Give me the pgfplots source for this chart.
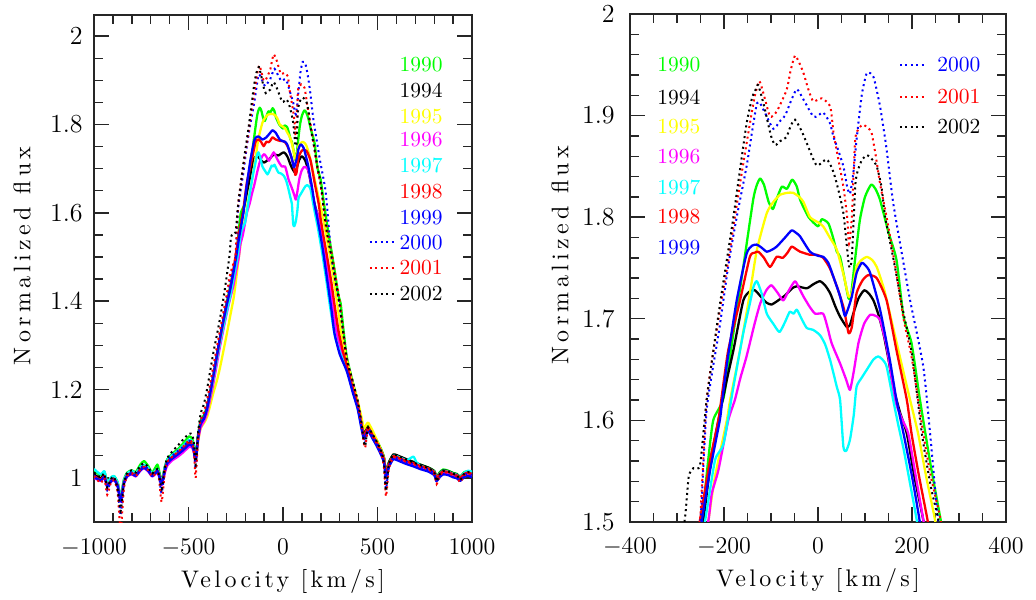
\documentclass[border=0pt]{standalone}
\usepackage{fontspec}
\usepackage{pgfplots}
\pgfplotsset{compat=1.18}
\usepackage{pgfplotstable}
\newfontfamily\lmwx{lmroman10-regular}[Extension=.otf,LetterSpace=14]
\newfontfamily\lmwy{lmroman10-regular}[Extension=.otf,LetterSpace=18]
\definecolor{cG}{rgb}{0,1,0}
\definecolor{cY}{rgb}{1,1,0}
\definecolor{cM}{rgb}{1,0,1}
\definecolor{cC}{rgb}{0,1,1}
\definecolor{cR}{rgb}{1,0,0}
\definecolor{cB}{rgb}{0,0,1}
\definecolor{cK}{rgb}{0,0,0}

% 1990 green
\pgfplotstableread{
x y
-1000 1.016
-965 1.006
-945 1.014
-930 0.990
-910 1.000
-894 1.004
-875 0.990
-859 0.956
-842 0.996
-824 1.012
-800 1.017
-779 1.013
-755 1.030
-735 1.038
-712 1.026
-692 1.012
-665 1.030
-655 1.015
-642 0.993
-625 1.025
-612 1.042
-585 1.055
-559 1.064
-530 1.077
-497 1.094
-480 1.088
-471 1.072
-462 1.046
-450 1.096
-436 1.130
-418 1.142
-400 1.166
-370 1.228
-333 1.318
-300 1.392
-280 1.432
-262 1.470
-247 1.502
-235 1.555
-223 1.600
-201 1.622
-180 1.686
-159 1.751
-138 1.817
-130 1.832
-123 1.838
-115 1.832
-105 1.815
-96 1.808
-88 1.818
-77 1.830
-66 1.828
-55 1.837
-45 1.830
-38 1.817
-20 1.800
0 1.791
8 1.798
22 1.794
32 1.780
40 1.766
47 1.761
57 1.738
65 1.720
70 1.722
78 1.755
89 1.797
100 1.820
113 1.832
122 1.828
132 1.817
150 1.785
167 1.758
182 1.702
199 1.676
217 1.620
240 1.555
261 1.502
280 1.450
295 1.410
305 1.395
320 1.335
337 1.275
370 1.215
395 1.172
415 1.125
428 1.100
440 1.110
451 1.118
475 1.100
496 1.085
522 1.062
535 1.045
545 1.012
560 1.035
584 1.052
620 1.047
654 1.041
690 1.036
725 1.030
770 1.023
800 1.016
813 1.003
830 1.013
848 1.019
875 1.016
901 1.011
920 1.009
937 1.003
960 1.013
980 1.015
1000 1.012
}\tA

% 1994 black
\pgfplotstableread{
x y
-1000 1.008
-965 0.999
-945 1.007
-930 0.986
-910 0.997
-894 1.001
-875 0.987
-859 0.952
-842 0.992
-824 1.009
-800 1.014
-779 1.009
-755 1.022
-735 1.028
-712 1.020
-692 1.009
-665 1.020
-655 1.010
-642 0.990
-625 1.022
-612 1.039
-585 1.050
-559 1.058
-530 1.068
-497 1.081
-480 1.078
-471 1.065
-462 1.043
-450 1.092
-436 1.126
-418 1.138
-400 1.160
-370 1.222
-333 1.310
-300 1.380
-280 1.418
-262 1.460
-244 1.502
-228 1.560
-212 1.600
-194 1.640
-180 1.669
-159 1.718
-145 1.727
-134 1.728
-122 1.722
-110 1.716
-99 1.714
-85 1.718
-70 1.723
-55 1.730
-45 1.732
-24 1.730
-10 1.734
4 1.737
15 1.733
26 1.725
37 1.712
47 1.702
61 1.692
68 1.694
75 1.705
86 1.720
98 1.728
108 1.725
118 1.718
128 1.705
139 1.686
150 1.660
160 1.633
175 1.607
189 1.587
205 1.545
224 1.502
245 1.445
265 1.390
284 1.335
310 1.290
337 1.255
370 1.203
395 1.168
415 1.123
428 1.098
440 1.108
451 1.116
475 1.099
496 1.083
522 1.060
535 1.044
545 1.010
560 1.034
584 1.053
620 1.048
654 1.042
690 1.036
725 1.030
770 1.023
800 1.015
813 1.002
830 1.011
848 1.017
875 1.015
901 1.010
920 1.008
937 1.002
960 1.011
980 1.014
1000 1.010
}\tB

% 1995 yellow
\pgfplotstableread{
x y
-1000 1.003
-965 0.995
-945 1.003
-930 0.982
-910 0.993
-894 0.997
-875 0.983
-859 0.948
-842 0.988
-824 1.005
-800 1.010
-779 1.005
-755 1.018
-735 1.024
-712 1.016
-692 1.005
-665 1.016
-655 1.006
-642 0.986
-625 1.016
-612 1.032
-585 1.043
-559 1.050
-530 1.060
-497 1.072
-480 1.070
-471 1.058
-462 1.038
-450 1.080
-436 1.112
-418 1.124
-400 1.140
-370 1.190
-351 1.218
-333 1.250
-300 1.320
-280 1.365
-260 1.410
-245 1.460
-233 1.502
-219 1.545
-194 1.600
-187 1.620
-166 1.669
-145 1.725
-130 1.768
-109 1.804
-95 1.815
-81 1.822
-65 1.824
-53 1.824
-40 1.820
-31 1.815
-17 1.800
0 1.795
11 1.791
25 1.780
40 1.768
55 1.742
65 1.722
72 1.726
82 1.751
93 1.758
104 1.761
115 1.758
125 1.751
140 1.730
153 1.705
174 1.663
196 1.620
213 1.587
230 1.545
249 1.502
270 1.445
290 1.385
310 1.325
337 1.268
370 1.212
395 1.175
415 1.138
428 1.112
440 1.120
451 1.125
475 1.106
496 1.086
522 1.060
535 1.043
545 1.008
560 1.030
584 1.044
620 1.039
654 1.033
690 1.028
725 1.022
770 1.016
800 1.009
813 0.996
830 1.004
848 1.010
875 1.008
901 1.003
920 1.001
937 0.995
960 1.003
980 1.006
1000 1.002
}\tC

% 1996 magenta
\pgfplotstableread{
x y
-1000 1.000
-965 0.993
-945 1.000
-930 0.980
-910 0.991
-894 0.995
-875 0.981
-859 0.946
-842 0.986
-824 1.003
-800 1.008
-779 1.003
-755 1.016
-735 1.022
-712 1.014
-692 1.003
-665 1.012
-655 1.002
-642 0.983
-625 1.012
-612 1.028
-585 1.040
-559 1.047
-530 1.057
-497 1.070
-480 1.068
-471 1.056
-462 1.037
-450 1.082
-436 1.114
-418 1.128
-400 1.150
-370 1.210
-333 1.298
-300 1.368
-280 1.405
-263 1.434
-250 1.465
-233 1.502
-226 1.528
-212 1.551
-191 1.600
-177 1.620
-165 1.642
-152 1.663
-135 1.695
-123 1.715
-110 1.728
-99 1.733
-85 1.725
-74 1.718
-62 1.728
-49 1.737
-40 1.730
-31 1.722
-18 1.712
-6 1.705
11 1.705
20 1.692
29 1.676
47 1.656
60 1.640
68 1.630
76 1.648
86 1.676
98 1.695
111 1.704
122 1.703
132 1.699
145 1.675
153 1.653
164 1.620
178 1.602
192 1.587
208 1.545
224 1.502
245 1.445
265 1.385
284 1.330
310 1.285
337 1.250
370 1.198
395 1.163
415 1.118
428 1.093
440 1.103
451 1.111
475 1.093
496 1.077
522 1.054
535 1.038
545 1.005
560 1.028
584 1.046
620 1.041
654 1.035
690 1.030
725 1.024
770 1.018
800 1.010
813 0.997
830 1.006
848 1.012
875 1.010
901 1.005
920 1.003
937 0.997
960 1.006
980 1.009
1000 1.005
}\tD

% 1997 cyan
\pgfplotstableread{
x y
-1000 1.020
-965 1.008
-945 1.015
-930 0.990
-910 1.001
-894 1.004
-875 0.990
-859 0.955
-842 0.994
-824 1.010
-800 1.016
-779 1.010
-755 1.024
-735 1.030
-712 1.022
-692 1.010
-665 1.020
-655 1.010
-642 0.990
-625 1.024
-612 1.040
-585 1.052
-559 1.060
-530 1.072
-497 1.086
-480 1.082
-471 1.068
-462 1.045
-450 1.092
-436 1.124
-418 1.136
-400 1.158
-370 1.220
-333 1.305
-300 1.372
-280 1.410
-260 1.455
-240 1.502
-219 1.561
-201 1.577
-180 1.633
-159 1.686
-145 1.715
-137 1.732
-130 1.737
-120 1.725
-109 1.705
-95 1.695
-82 1.687
-70 1.697
-60 1.707
-52 1.705
-45 1.709
-35 1.700
-24 1.691
-10 1.689
4 1.684
15 1.675
26 1.659
40 1.633
47 1.620
54 1.574
60 1.570
68 1.581
76 1.605
82 1.633
93 1.642
104 1.650
118 1.660
128 1.663
137 1.660
146 1.653
160 1.620
171 1.595
182 1.572
195 1.540
210 1.502
230 1.445
250 1.385
275 1.320
305 1.280
337 1.248
370 1.196
395 1.160
415 1.116
428 1.092
440 1.102
451 1.110
475 1.093
496 1.078
522 1.056
535 1.040
545 1.006
560 1.030
584 1.050
620 1.046
654 1.040
690 1.048
705 1.036
725 1.028
770 1.021
800 1.014
813 1.001
830 1.010
848 1.016
875 1.014
901 1.009
920 1.007
937 1.001
960 1.012
980 1.016
1000 1.014
}\tE

% 1998 red
\pgfplotstableread{
x y
-1000 1.004
-965 0.996
-945 1.004
-930 0.983
-910 0.994
-894 0.998
-875 0.984
-859 0.949
-842 0.989
-824 1.006
-800 1.011
-779 1.006
-755 1.019
-735 1.025
-712 1.017
-692 1.006
-665 1.017
-655 1.007
-642 0.987
-625 1.019
-612 1.036
-585 1.047
-559 1.055
-530 1.065
-497 1.078
-480 1.075
-471 1.062
-462 1.040
-450 1.089
-436 1.123
-418 1.135
-400 1.160
-370 1.226
-333 1.315
-300 1.388
-280 1.428
-265 1.465
-251 1.502
-230 1.560
-212 1.600
-205 1.623
-191 1.669
-166 1.718
-145 1.761
-135 1.765
-127 1.766
-115 1.760
-102 1.751
-88 1.761
-75 1.760
-65 1.765
-56 1.771
-45 1.768
-38 1.766
-17 1.763
-3 1.763
11 1.760
25 1.750
40 1.732
55 1.710
65 1.686
72 1.692
82 1.725
95 1.738
107 1.743
125 1.740
146 1.718
167 1.669
189 1.620
199 1.587
215 1.545
233 1.502
255 1.445
275 1.385
295 1.330
315 1.290
337 1.255
370 1.202
395 1.166
415 1.121
428 1.096
440 1.106
451 1.114
475 1.096
496 1.080
522 1.057
535 1.041
545 1.008
560 1.031
584 1.049
620 1.044
654 1.038
690 1.033
725 1.027
770 1.021
800 1.013
813 1.000
830 1.009
848 1.015
875 1.013
901 1.008
920 1.006
937 1.000
960 1.009
980 1.012
1000 1.008
}\tF

% 1999 blue
\pgfplotstableread{
x y
-1000 1.002
-965 0.994
-945 1.002
-930 0.981
-910 0.992
-894 0.996
-875 0.982
-859 0.947
-842 0.987
-824 1.004
-800 1.009
-779 1.004
-755 1.017
-735 1.023
-712 1.015
-692 1.004
-665 1.014
-655 1.004
-642 0.985
-625 1.016
-612 1.033
-585 1.044
-559 1.052
-530 1.062
-497 1.075
-480 1.072
-471 1.060
-462 1.038
-450 1.088
-436 1.122
-418 1.134
-400 1.160
-370 1.228
-333 1.318
-300 1.388
-280 1.425
-262 1.465
-247 1.502
-230 1.550
-209 1.600
-205 1.615
-194 1.655
-173 1.718
-152 1.764
-140 1.772
-130 1.773
-120 1.770
-109 1.766
-98 1.768
-88 1.771
-70 1.780
-56 1.787
-45 1.784
-38 1.781
-17 1.766
0 1.762
11 1.761
22 1.755
33 1.741
47 1.722
57 1.703
64 1.710
72 1.722
82 1.745
93 1.755
102 1.752
111 1.745
132 1.709
153 1.659
167 1.620
182 1.587
200 1.545
216 1.502
235 1.445
255 1.385
272 1.328
300 1.280
337 1.242
370 1.192
395 1.156
415 1.112
428 1.088
440 1.098
451 1.106
475 1.088
496 1.072
522 1.049
535 1.033
545 1.000
560 1.024
584 1.042
620 1.037
654 1.031
690 1.026
725 1.020
770 1.014
800 1.006
813 0.993
830 1.002
848 1.008
875 1.006
901 1.001
920 0.999
937 0.993
960 1.002
980 1.005
1000 1.001
}\tG

% 2000 blue dotted
\pgfplotstableread{
x y
-1000 1.006
-965 0.993
-945 1.003
-930 0.972
-910 0.993
-894 0.997
-875 0.975
-859 0.915
-842 0.982
-824 1.007
-800 1.012
-779 1.006
-755 1.021
-735 1.027
-712 1.019
-692 1.006
-665 1.016
-655 1.002
-642 0.965
-625 1.018
-612 1.038
-585 1.050
-559 1.060
-530 1.070
-497 1.084
-480 1.080
-471 1.063
-462 1.020
-450 1.090
-436 1.130
-418 1.145
-400 1.170
-370 1.238
-333 1.325
-300 1.400
-280 1.450
-265 1.475
-250 1.502
-237 1.610
-210 1.690
-190 1.755
-173 1.800
-152 1.850
-140 1.885
-130 1.912
-123 1.912
-110 1.900
-95 1.887
-80 1.895
-70 1.900
-57 1.915
-45 1.926
-30 1.915
-10 1.899
0 1.900
11 1.903
25 1.893
33 1.879
40 1.870
54 1.850
62 1.830
68 1.823
75 1.843
82 1.876
93 1.920
104 1.942
118 1.938
132 1.909
145 1.870
160 1.814
180 1.760
196 1.718
224 1.653
240 1.580
255 1.504
275 1.450
300 1.390
337 1.272
370 1.215
395 1.172
415 1.125
428 1.090
435 1.080
445 1.105
451 1.112
475 1.095
496 1.079
522 1.055
535 1.030
545 0.975
560 1.025
584 1.046
620 1.042
654 1.036
690 1.031
725 1.025
770 1.019
800 1.010
813 0.990
830 1.006
848 1.013
875 1.011
901 1.006
920 1.004
937 0.993
960 1.007
980 1.010
1000 1.006
}\tH

% 2001 red dotted
\pgfplotstableread{
x y
-1000 1.004
-965 0.988
-945 1.000
-930 0.962
-910 0.990
-894 0.994
-875 0.968
-859 0.880
-842 0.975
-824 1.005
-800 1.010
-779 1.004
-755 1.019
-735 1.025
-712 1.017
-692 1.003
-665 1.012
-655 0.995
-642 0.945
-625 1.014
-612 1.036
-585 1.048
-559 1.058
-530 1.070
-497 1.085
-480 1.080
-471 1.058
-462 1.000
-450 1.085
-436 1.130
-418 1.150
-400 1.180
-370 1.250
-333 1.335
-300 1.410
-280 1.460
-265 1.482
-251 1.502
-237 1.620
-210 1.705
-190 1.760
-177 1.800
-160 1.850
-145 1.892
-135 1.918
-125 1.934
-115 1.920
-102 1.899
-88 1.904
-67 1.925
-58 1.945
-49 1.959
-40 1.952
-31 1.942
-20 1.925
-10 1.914
8 1.917
26 1.909
33 1.883
40 1.865
54 1.830
62 1.800
66 1.774
72 1.800
79 1.876
88 1.888
96 1.891
106 1.888
114 1.883
123 1.860
132 1.833
146 1.800
165 1.750
182 1.700
200 1.660
224 1.587
240 1.545
261 1.502
280 1.450
300 1.400
337 1.270
370 1.215
395 1.170
415 1.120
428 1.078
435 1.068
445 1.100
451 1.110
475 1.093
496 1.077
522 1.052
535 1.020
545 0.958
560 1.020
584 1.046
620 1.042
654 1.036
690 1.031
725 1.025
770 1.019
800 1.008
813 0.986
830 1.005
848 1.013
875 1.011
901 1.005
920 1.003
937 0.990
960 1.006
980 1.010
1000 1.006
}\tI

% 2002 black dotted
\pgfplotstableread{
x y
-1000 1.012
-965 1.001
-945 1.010
-930 0.978
-910 0.998
-894 1.002
-875 0.975
-859 0.925
-842 0.987
-824 1.012
-800 1.017
-779 1.012
-755 1.027
-735 1.033
-712 1.024
-692 1.010
-665 1.020
-655 1.003
-642 0.975
-625 1.025
-612 1.045
-585 1.060
-559 1.072
-530 1.086
-497 1.100
-480 1.098
-471 1.076
-462 1.030
-450 1.100
-436 1.145
-418 1.168
-400 1.205
-370 1.280
-340 1.345
-316 1.404
-300 1.450
-283 1.504
-275 1.545
-265 1.553
-251 1.556
-237 1.620
-210 1.710
-195 1.755
-181 1.797
-165 1.850
-152 1.892
-140 1.918
-130 1.928
-127 1.930
-115 1.910
-100 1.880
-91 1.871
-80 1.875
-67 1.879
-58 1.890
-49 1.896
-35 1.885
-24 1.873
-3 1.851
18 1.857
30 1.848
40 1.833
54 1.804
66 1.752
72 1.760
80 1.835
92 1.855
104 1.861
115 1.857
125 1.850
135 1.830
143 1.800
160 1.760
180 1.710
200 1.665
221 1.587
240 1.535
256 1.502
280 1.440
300 1.390
337 1.270
370 1.217
395 1.175
415 1.125
428 1.082
435 1.072
445 1.105
451 1.114
475 1.098
496 1.082
522 1.058
535 1.030
545 0.970
560 1.030
584 1.052
620 1.048
654 1.041
690 1.035
725 1.029
770 1.022
800 1.013
813 0.992
830 1.009
848 1.016
875 1.014
901 1.009
920 1.007
937 0.995
960 1.010
980 1.013
1000 1.010
}\tJ

\pgfplotsset{
  sol/.style={line width=1.15pt, smooth, tension=0.35, line join=round},
  dot/.style={line width=1pt, dash pattern=on 1pt off 1.7pt, smooth, tension=0.35},
  myax/.style={
    scale only axis,
    tick align=inside,
    xtick pos=both, ytick pos=both,
    major tick length=7.5pt, minor tick length=4.5pt,
    every tick/.style={black!85, line width=0.7pt},
    axis line style={black!85, line width=0.9pt},
    tick label style={font=\fontsize{13}{15}\selectfont},
    scaled ticks=false,
    /pgf/number format/1000 sep={},
    xticklabel style={anchor=base, inner sep=0pt, yshift=-16pt},
    xlabel style={at={(axis description cs:0.5,0)}, anchor=base, yshift=-32.5pt, font=\fontsize{12}{14}\lmwx},
    ylabel style={anchor=center, font=\fontsize{12}{14}\lmwy},
    xlabel={Velocity [km/s]},
    ylabel={Normalized flux},
  },
}
\tikzset{leg/.style={font=\fontsize{10.75}{12}\selectfont, inner sep=0pt}}

\begin{document}
\begin{tikzpicture}[x=1pt,y=1pt]
\path[use as bounding box] (0,0) rectangle (518,299.5);

% ---------------- left panel
\begin{axis}[myax,
  at={(47pt,38.5pt)}, anchor=south west,
  width=189pt, height=253.5pt,
  xmin=-1000, xmax=1000, ymin=0.9, ymax=2.048,
  xtick={-1000,-500,0,500,1000}, minor x tick num=4,
  ytick={1,1.2,1.4,1.6,1.8,2}, yticklabels={1,1.2,1.4,1.6,1.8,2}, minor y tick num=3,
  yticklabel style={anchor=east, inner sep=0pt, xshift=-5.5pt},
  ylabel style={at={(axis description cs:-0.1905,0.525)}},
]
\addplot[sol, cG] table[x=x,y=y]{\tA};
\addplot[sol, cK] table[x=x,y=y]{\tB};
\addplot[sol, cY] table[x=x,y=y]{\tC};
\addplot[sol, cM] table[x=x,y=y]{\tD};
\addplot[sol, cC] table[x=x,y=y]{\tE};
\addplot[sol, cR] table[x=x,y=y]{\tF};
\addplot[sol, cB] table[x=x,y=y]{\tG};
\addplot[dot, cB] table[x=x,y=y]{\tH};
\addplot[dot, cR] table[x=x,y=y]{\tI};
\addplot[dot, cK] table[x=x,y=y]{\tJ};
\addplot[cB, line width=1pt, dash pattern=on 1pt off 1.7pt, forget plot] coordinates {(460,1.5329) (593,1.5329)};
\addplot[cR, line width=1pt, dash pattern=on 1pt off 1.7pt, forget plot] coordinates {(460,1.4762) (593,1.4762)};
\addplot[cK, line width=1pt, dash pattern=on 1pt off 1.7pt, forget plot] coordinates {(460,1.4172) (593,1.4172)};
\node[leg, anchor=east, text=cG] at (axis cs:847,1.9365) {1990};
\node[leg, anchor=east, text=cK] at (axis cs:847,1.8776) {1994};
\node[leg, anchor=east, text=cY] at (axis cs:847,1.8186) {1995};
\node[leg, anchor=east, text=cM] at (axis cs:847,1.7660) {1996};
\node[leg, anchor=east, text=cC] at (axis cs:847,1.7075) {1997};
\node[leg, anchor=east, text=cR] at (axis cs:847,1.6485) {1998};
\node[leg, anchor=east, text=cB] at (axis cs:847,1.5896) {1999};
\node[leg, anchor=east, text=cB] at (axis cs:847,1.5329) {2000};
\node[leg, anchor=east, text=cR] at (axis cs:847,1.4762) {2001};
\node[leg, anchor=east, text=cK] at (axis cs:847,1.4172) {2002};
\end{axis}

% ---------------- right panel
\begin{axis}[myax,
  at={(315pt,38.5pt)}, anchor=south west,
  width=188pt, height=254pt,
  xmin=-400, xmax=400, ymin=1.5, ymax=2.0,
  xtick={-400,-200,0,200,400}, minor x tick num=3,
  ytick={1.5,1.6,1.7,1.8,1.9,2}, yticklabels={1.5,1.6,1.7,1.8,1.9,2}, minor y tick num=4,
  yticklabel style={anchor=east, inner sep=0pt, xshift=-7.5pt},
  ylabel style={at={(axis description cs:-0.186,0.525)}},
]
\addplot[sol, cG] table[x=x,y=y]{\tA};
\addplot[sol, cK] table[x=x,y=y]{\tB};
\addplot[sol, cY] table[x=x,y=y]{\tC};
\addplot[sol, cM] table[x=x,y=y]{\tD};
\addplot[sol, cC] table[x=x,y=y]{\tE};
\addplot[sol, cR] table[x=x,y=y]{\tF};
\addplot[sol, cB] table[x=x,y=y]{\tG};
\addplot[dot, cB] table[x=x,y=y]{\tH};
\addplot[dot, cR] table[x=x,y=y]{\tI};
\addplot[dot, cK] table[x=x,y=y]{\tJ};
\addplot[cB, line width=1pt, dash pattern=on 1pt off 1.7pt, forget plot] coordinates {(174.5,1.9498) (231,1.9498)};
\addplot[cR, line width=1pt, dash pattern=on 1pt off 1.7pt, forget plot] coordinates {(174.5,1.9183) (231,1.9183)};
\addplot[cK, line width=1pt, dash pattern=on 1pt off 1.7pt, forget plot] coordinates {(174.5,1.8888) (231,1.8888)};
\node[leg, anchor=west, text=cG] at (axis cs:-342.6,1.9498) {1990};
\node[leg, anchor=west, text=cK] at (axis cs:-342.6,1.9183) {1994};
\node[leg, anchor=west, text=cY] at (axis cs:-342.6,1.8888) {1995};
\node[leg, anchor=west, text=cM] at (axis cs:-342.6,1.8593) {1996};
\node[leg, anchor=west, text=cC] at (axis cs:-342.6,1.8297) {1997};
\node[leg, anchor=west, text=cR] at (axis cs:-342.6,1.8002) {1998};
\node[leg, anchor=west, text=cB] at (axis cs:-342.6,1.7697) {1999};
\node[leg, anchor=west, text=cB] at (axis cs:253,1.9498) {2000};
\node[leg, anchor=west, text=cR] at (axis cs:253,1.9183) {2001};
\node[leg, anchor=west, text=cK] at (axis cs:253,1.8888) {2002};
\end{axis}
\end{tikzpicture}
\end{document}
